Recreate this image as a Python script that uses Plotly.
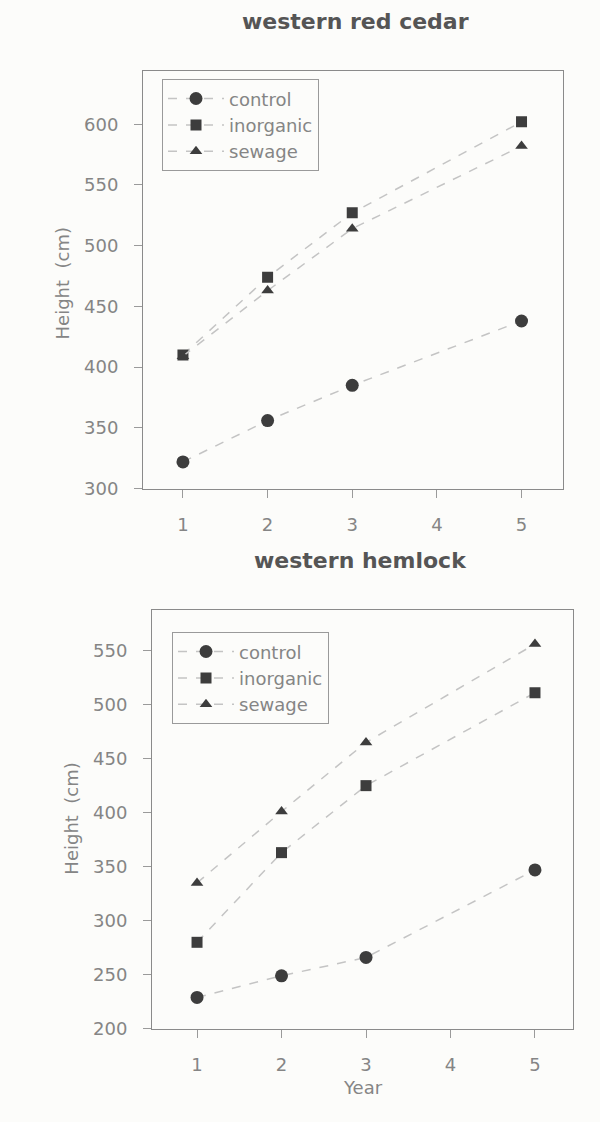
import plotly.graph_objects as go

years = [1, 2, 3, 5]
series_names = ["control", "inorganic", "sewage"]
cedar_control = [322, 356, 385, 438]
cedar_inorganic = [410, 474, 527, 602]
cedar_sewage = [409, 463, 514, 582]
hemlock_control = [229, 249, 266, 347]
hemlock_inorganic = [280, 363, 425, 511]
hemlock_sewage = [335, 401, 465, 556]
x_ticks = [1, 2, 3, 4, 5]
cedar_y_ticks = [300, 350, 400, 450, 500, 550, 600]
hemlock_y_ticks = [200, 250, 300, 350, 400, 450, 500, 550]

W, H = 600, 1122
BG = "#fcfcfa"
MK = "#3d3d3d"
LN = "#c4c4c4"
TXT = "#858585"
FONT = "DejaVu Sans, Verdana, sans-serif"
symbols = {"control": "circle", "inorganic": "square", "sewage": "triangle-up"}
sizes = {"control": 13, "inorganic": 11, "sewage": 11}

fig = go.Figure()

def add(name, xs, ys, xa, ya, legend):
    fig.add_trace(go.Scatter(
        x=xs, y=ys, name=name, mode="lines+markers",
        xaxis=xa, yaxis=ya, legend=legend,
        line=dict(color=LN, width=1.5, dash="dash"),
        marker=dict(symbol=symbols[name], size=sizes[name], color=MK),
    ))

for n, ys in zip(series_names, [cedar_control, cedar_inorganic, cedar_sewage]):
    add(n, years, ys, "x", "y", "legend")
for n, ys in zip(series_names, [hemlock_control, hemlock_inorganic, hemlock_sewage]):
    add(n, years, ys, "x2", "y2", "legend2")

def px(v):
    return v / W

def py(v):
    return 1 - v / H

axis_common = dict(
    showgrid=False, zeroline=False, showline=True, mirror=True,
    linecolor="#8a8a8a", linewidth=1, ticks="outside", ticklen=8,
    tickcolor="#9a9a9a", tickfont=dict(family=FONT, size=18, color=TXT),
    ticklabelstandoff=12,
)

legend_common = dict(xanchor="left", yanchor="top",
                     bgcolor="rgba(0,0,0,0)", bordercolor="#9a9a9a", borderwidth=1,
                     font=dict(family=FONT, size=18, color=TXT), itemwidth=56)

fig.update_layout(
    width=W, height=H, margin=dict(l=0, r=0, t=0, b=0),
    paper_bgcolor=BG, plot_bgcolor=BG, showlegend=True,
    xaxis=dict(domain=[px(143), px(563)], range=[0.528, 5.49], tickvals=x_ticks,
               anchor="y", **axis_common),
    yaxis=dict(domain=[py(493), py(72)], range=[300, 643.5], tickvals=cedar_y_ticks,
               anchor="x", **axis_common),
    xaxis2=dict(domain=[px(152), px(573)], range=[0.467, 5.45], tickvals=x_ticks,
                anchor="y2", **axis_common),
    yaxis2=dict(domain=[py(1038), py(615)], range=[200, 588], tickvals=hemlock_y_ticks,
                anchor="x2", **axis_common),
    legend=dict(x=px(162), y=py(80), **legend_common),
    legend2=dict(x=px(172), y=py(638), **legend_common),
)

title_font = dict(family=FONT, size=22, color="#555555")
label_font = dict(family=FONT, size=18, color=TXT)
fig.add_annotation(text="<b>western red cedar</b>", x=px(355), y=py(22), xref="paper", yref="paper",
                   showarrow=False, font=title_font, xanchor="center", yanchor="middle")
fig.add_annotation(text="<b>western hemlock</b>", x=px(360), y=py(566), xref="paper", yref="paper",
                   showarrow=False, font=title_font, xanchor="center", yanchor="middle")
fig.add_annotation(text="Height  (cm)", x=px(62), y=py(286), xref="paper", yref="paper",
                   showarrow=False, font=label_font, textangle=-90, xanchor="center", yanchor="middle")
fig.add_annotation(text="Height  (cm)", x=px(72), y=py(826), xref="paper", yref="paper",
                   showarrow=False, font=label_font, textangle=-90, xanchor="center", yanchor="middle")
fig.add_annotation(text="Year", x=px(363), y=py(1097), xref="paper", yref="paper",
                   showarrow=False, font=label_font, xanchor="center", yanchor="middle")

post = (
    "document.documentElement.style.margin='0';"
    "document.documentElement.style.height='%dpx';"
    "document.documentElement.style.overflow='hidden';"
    "document.body.style.margin='0';"
    "document.body.style.height='%dpx';"
    "document.body.style.overflow='hidden';"
    "document.body.style.background='%s';" % (H, H, BG)
)
fig.write_html("out.html", config={"displayModeBar": False}, post_script=post)
